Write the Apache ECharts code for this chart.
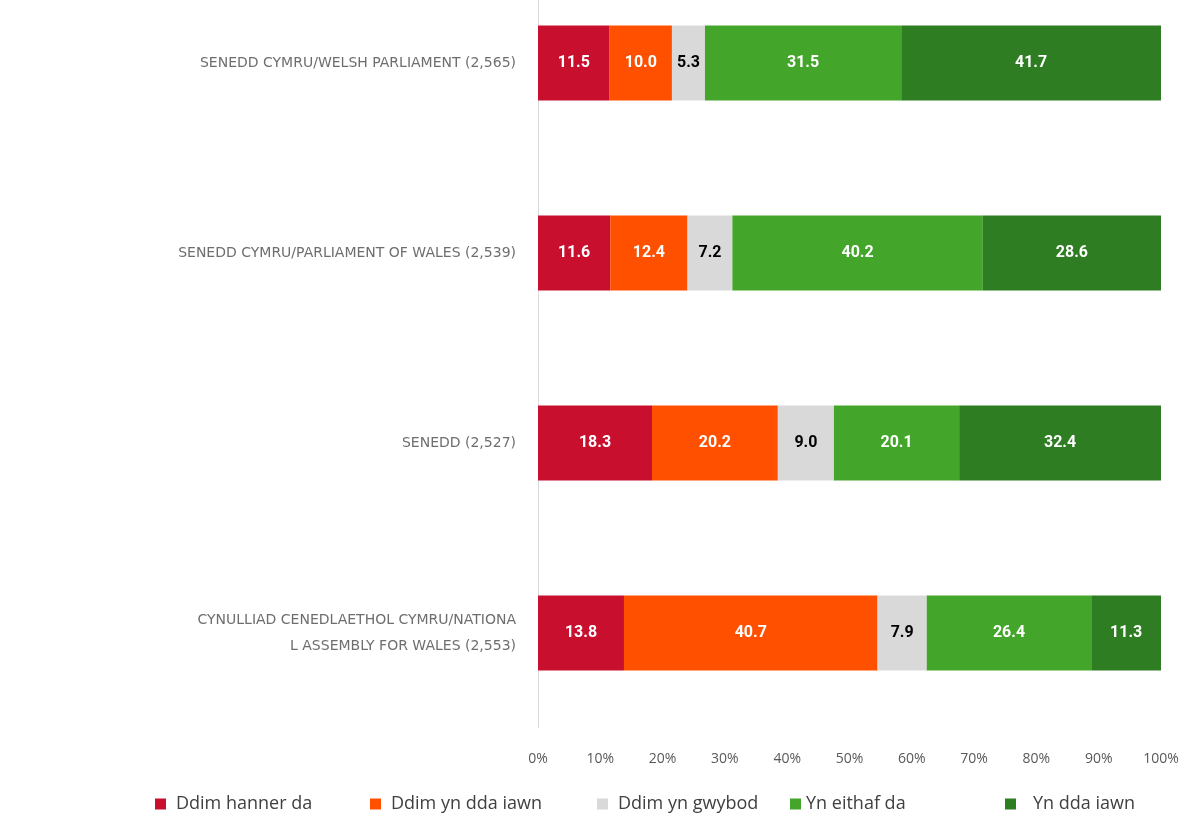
<!DOCTYPE html>
<html>
<head>
<meta charset="utf-8">
<script src="https://cdn.jsdelivr.net/npm/echarts@6/dist/echarts.min.js"></script>
<style>
  html, body { margin: 0; padding: 0; background: #fff; }
  #chart { width: 1195px; height: 818px; }
</style>
</head>
<body>
<div id="chart"></div>
<script>
// categories, top to bottom
var categories = [
  'SENEDD CYMRU/WELSH PARLIAMENT (2,565)',
  'SENEDD CYMRU/PARLIAMENT OF WALES (2,539)',
  'SENEDD (2,527)',
  'CYNULLIAD CENEDLAETHOL CYMRU/NATIONA\nL ASSEMBLY FOR WALES (2,553)'
];
var seriesNames = ['Ddim hanner da', 'Ddim yn dda iawn', 'Ddim yn gwybod', 'Yn eithaf da', 'Yn dda iawn'];
var ddimHannerDa = [11.5, 11.6, 18.3, 13.8];
var ddimYnDdaIawn = [10.0, 12.4, 20.2, 40.7];
var ddimYnGwybod = [5.3, 7.2, 9.0, 7.9];
var ynEithafDa = [31.5, 40.2, 20.1, 26.4];
var ynDdaIawn = [41.7, 28.6, 32.4, 11.3];
var xTicks = [0, 10, 20, 30, 40, 50, 60, 70, 80, 90, 100];

var colors = ['#C8102E', '#FF5000', '#D9D9D9', '#43A62A', '#2E7D22'];
var labelColors = ['#fff', '#fff', '#000', '#fff', '#fff'];
var values = [ddimHannerDa, ddimYnDdaIawn, ddimYnGwybod, ynEithafDa, ynDdaIawn];
// legend item left edges
var legendLeft = [150, 365, 592, 785, 1000];
var legendTextGap = [5, 5, 5, 0, 12];

var myChart = echarts.init(document.getElementById('chart'));

var series = seriesNames.map(function (name, i) {
  return {
    name: name,
    type: 'bar',
    stack: 'total',
    barWidth: 75,
    itemStyle: { color: colors[i] },
    label: {
      show: true,
      position: 'inside',
      color: labelColors[i],
      fontWeight: 'bold',
      fontSize: 16,
      fontFamily: 'Roboto',
      formatter: function (p) { return p.value.toFixed(1); }
    },
    data: values[i]
  };
});

var legends = seriesNames.map(function (name, i) {
  return {
    bottom: 0,
    left: legendLeft[i],
    itemWidth: 11,
    itemHeight: 11,
    itemGap: 0,
    icon: 'rect',
    textStyle: { color: '#404040', fontSize: 18, fontFamily: 'Open Sans', padding: [0, 0, 0, legendTextGap[i]] },
    data: [name]
  };
});

var option = {
  backgroundColor: '#fff',
  animation: false,
  grid: { left: 538, right: 34, top: -32, height: 760, outerBoundsMode: 'none' },
  legend: legends,
  xAxis: {
    type: 'value',
    min: 0,
    max: 100,
    interval: 10,
    axisLine: { show: false },
    axisTick: { show: false },
    splitLine: { show: false },
    axisLabel: {
      margin: 24,
      color: '#595959',
      fontSize: 14,
      fontFamily: 'Open Sans',
      formatter: function (v) { return xTicks.indexOf(v) >= 0 ? v + '%' : ''; }
    }
  },
  yAxis: {
    type: 'category',
    inverse: true,
    data: categories,
    axisLine: { show: true, lineStyle: { color: '#D9D9D9' } },
    axisTick: { show: false },
    axisLabel: {
      margin: 22,
      color: '#6e6e6e',
      fontSize: 14,
      fontFamily: 'DejaVu Sans',
      lineHeight: 26,
      align: 'right'
    }
  },
  series: series
};

myChart.setOption(option);
</script>
</body>
</html>
